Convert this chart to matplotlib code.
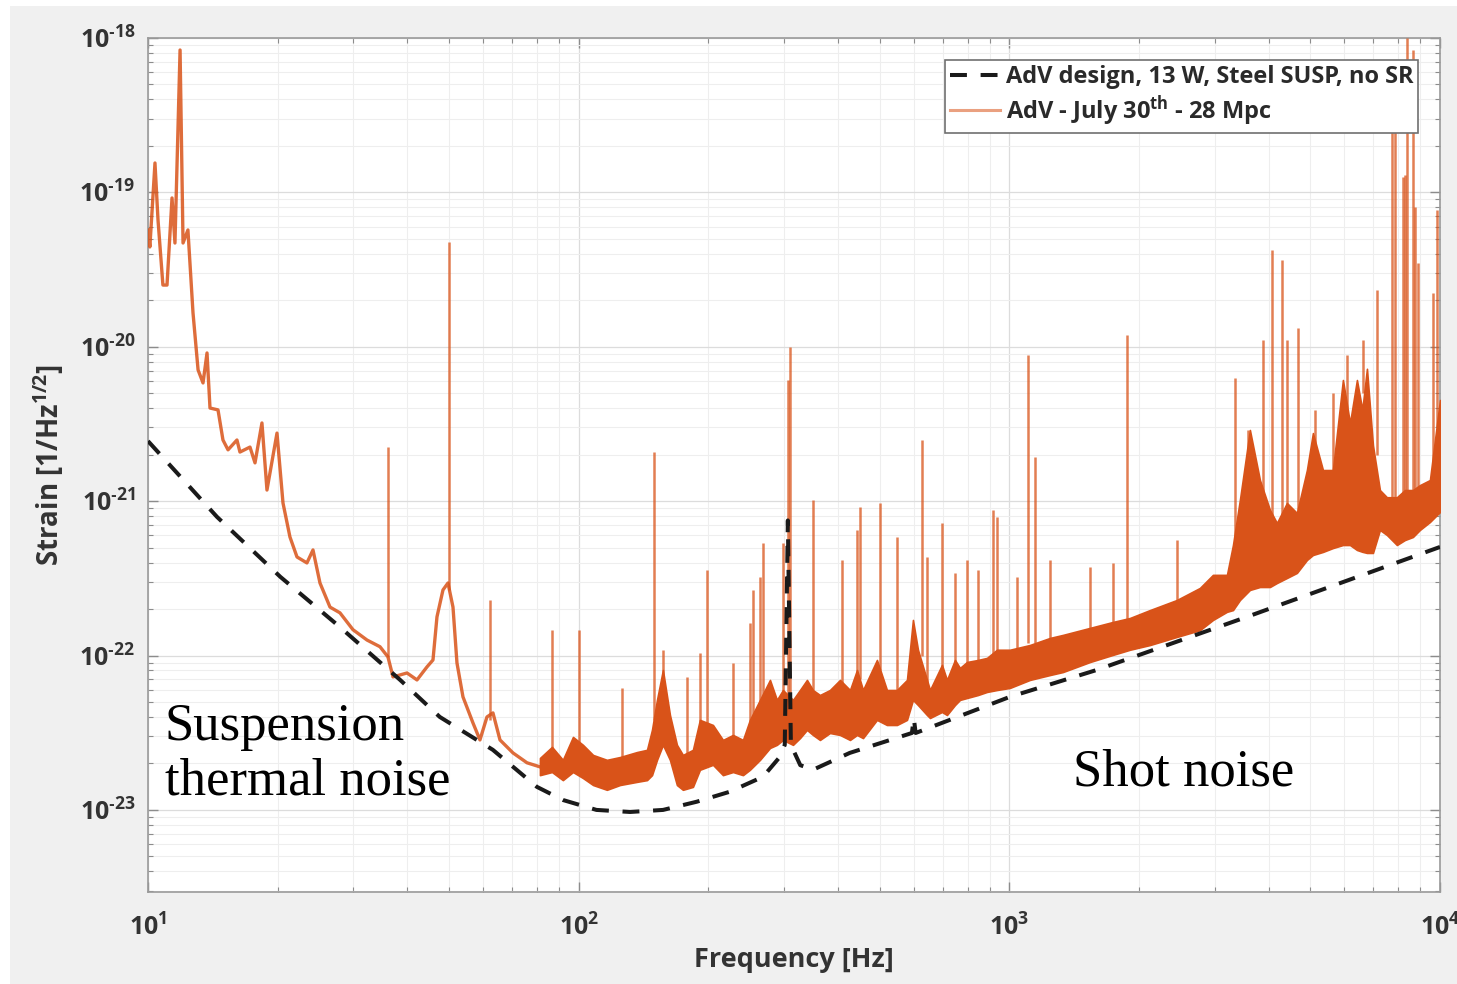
import numpy as np
import matplotlib.pyplot as plt
from matplotlib.lines import Line2D
from matplotlib.patches import Rectangle
from matplotlib.ticker import LogLocator, NullFormatter

plt.rcParams['font.family'] = 'Open Sans'
plt.rcParams['font.weight'] = 'bold'
plt.rcParams['axes.labelweight'] = 'bold'
plt.rcParams['mathtext.fontset'] = 'custom'
plt.rcParams['mathtext.rm'] = 'Open Sans:bold'
plt.rcParams['mathtext.it'] = 'Open Sans:bold'
plt.rcParams['mathtext.bf'] = 'Open Sans:bold'

# design sensitivity (dashed)
design_freq = [10, 14.46, 20.3, 27.9, 38.5, 47.6, 63.2, 80.0, 91.9, 110, 131.6, 157, 188,
               224, 268, 293, 301, 306, 311, 327, 350, 426, 594, 600, 606, 1003, 1597,
               3562, 10000]
design_strain = [2.45e-21, 7.91e-22, 3.23e-22, 1.53e-22, 6.95e-23, 4.0e-23, 2.45e-23,
                 1.41e-23, 1.16e-23, 1.0e-23, 9.7e-24, 1.0e-23, 1.13e-23, 1.31e-23,
                 1.64e-23, 2.2e-23, 2.64e-23, 7.5e-22, 2.64e-23, 1.95e-23, 1.82e-23,
                 2.34e-23, 3.15e-23, 3.94e-23, 3.15e-23, 5.4e-23, 8.07e-23, 1.78e-22,
                 5.05e-22]

# measured curve, low frequency part (single line)
low_freq = [10.0, 10.1, 10.38, 10.55, 10.83, 11.07, 11.37, 11.55, 11.87, 12.06, 12.38,
            12.72, 13.07, 13.42, 13.71, 13.93, 14.54, 14.93, 15.34, 16.09, 16.35, 17.25,
            17.72, 18.39, 18.89, 19.93, 20.58, 21.36, 22.18, 23.39, 24.16, 25.08, 26.46,
            27.91, 29.92, 32.25, 34.57, 36.07, 37.06, 39.94, 42.13, 44.44, 45.89, 46.88,
            48.41, 49.72, 51.07, 52.17, 53.87, 56.83, 58.99, 61.24, 63.24, 65.66, 70.39,
            75.86, 81.33]
low_strain = [5.71e-20, 4.43e-20, 1.55e-19, 6.62e-20, 2.51e-20, 2.51e-20, 9.2e-20, 4.7e-20,
              8.36e-19, 4.7e-20, 5.71e-20, 1.66e-20, 7.08e-21, 5.83e-21, 9.12e-21, 4.01e-21,
              3.9e-21, 2.49e-21, 2.15e-21, 2.49e-21, 2.08e-21, 2.24e-21, 1.77e-21, 3.21e-21,
              1.18e-21, 2.76e-21, 9.73e-22, 5.86e-22, 4.35e-22, 3.98e-22, 4.83e-22, 2.95e-22,
              2.06e-22, 1.89e-22, 1.47e-22, 1.26e-22, 1.14e-22, 9.8e-23, 7.27e-23, 7.71e-23,
              6.95e-23, 8.44e-23, 9.36e-23, 1.78e-22, 2.66e-22, 2.95e-22, 2.06e-22, 8.95e-23,
              5.4e-23, 3.66e-23, 2.84e-23, 4.0e-23, 4.25e-23, 2.84e-23, 2.34e-23, 2.02e-23,
              1.9e-23]

# measured curve above ~80 Hz: noise band (lower / upper envelope)
band_freq = [81.3, 86.7, 91.9, 97.0, 102.3, 108.0, 116.3, 124.7, 136.6, 144.1, 148.0, 152.0,
             156.9, 162.9, 169.1, 174.6, 184.2, 191.2, 205.0, 216.3, 228.2, 240.7, 249.8,
             263.6, 278.1, 288.6, 298.1, 314.5, 326.5, 338.9, 349.9, 363.3, 383.2, 404.4,
             426.6, 442.9, 457.3, 492.7, 519.7, 548.3, 578.5, 597.3, 613.5, 643.8, 654.2,
             697.5, 716.4, 747.7, 768.0, 797.3, 845.6, 887.2, 935.9, 1003, 1116, 1243, 1332,
             1539, 1740, 1905, 2121, 2449, 2770, 2970, 3201, 3306, 3431, 3619, 3818, 4028,
             4181, 4411, 4653, 4909, 5069, 5348, 5641, 5951, 6179, 6414, 6600, 6767, 6987,
             7252, 7528, 7942, 8287, 8651, 8981, 9476, 10000]
band_hi = [2.17e-23, 2.56e-23, 2.11e-23, 2.97e-23, 2.64e-23, 2.27e-23, 2.11e-23, 2.2e-23,
           2.37e-23, 2.45e-23, 3.3e-23, 5.16e-23, 8.06e-23, 4.12e-23, 2.64e-23, 2.27e-23,
           2.45e-23, 3.83e-23, 3.55e-23, 2.84e-23, 3.06e-23, 2.84e-23, 3.83e-23, 5.16e-23,
           6.95e-23, 5.16e-23, 5.98e-23, 5.16e-23, 5.98e-23, 6.95e-23, 5.98e-23, 5.55e-23,
           5.98e-23, 6.95e-23, 5.98e-23, 8.06e-23, 5.98e-23, 9.36e-23, 5.98e-23, 5.98e-23,
           6.95e-23, 1.7e-22, 1.09e-22, 6.95e-23, 5.98e-23, 8.69e-23, 6.95e-23, 9.36e-23,
           8.31e-23, 9.08e-23, 9.36e-23, 9.65e-23, 1.09e-22, 1.09e-22, 1.17e-22, 1.3e-22,
           1.36e-22, 1.51e-22, 1.65e-22, 1.75e-22, 1.97e-22, 2.29e-22, 2.74e-22, 3.33e-22,
           3.33e-22, 5.2e-22, 1.02e-21, 2.89e-21, 1.37e-21, 8.77e-22, 7.22e-22, 9.73e-22,
           8.38e-22, 1.59e-21, 2.76e-21, 1.59e-21, 1.59e-21, 6.09e-21, 3.2e-21, 6.09e-21,
           3.9e-21, 7.2e-21, 2.3e-21, 1.18e-21, 1.06e-21, 1.06e-21, 1.18e-21, 1.18e-21,
           1.27e-21, 1.37e-21, 4.52e-21]
band_lo = [1.68e-23, 1.76e-23, 1.56e-23, 1.76e-23, 1.61e-23, 1.45e-23, 1.35e-23, 1.45e-23,
           1.52e-23, 1.56e-23, 1.68e-23, 2.11e-23, 2.64e-23, 2.11e-23, 1.45e-23, 1.35e-23,
           1.41e-23, 1.82e-23, 1.96e-23, 1.68e-23, 1.76e-23, 1.68e-23, 1.82e-23, 2.11e-23,
           2.52e-23, 2.64e-23, 2.84e-23, 2.64e-23, 2.92e-23, 3.3e-23, 3.06e-23, 2.84e-23,
           3.15e-23, 3.06e-23, 2.84e-23, 3.06e-23, 2.92e-23, 3.83e-23, 3.55e-23, 3.55e-23,
           3.83e-23, 5.16e-23, 4.78e-23, 4.12e-23, 3.94e-23, 4.31e-23, 4.12e-23, 4.78e-23,
           5.16e-23, 5.31e-23, 5.55e-23, 5.81e-23, 5.98e-23, 6.17e-23, 6.95e-23, 7.48e-23,
           7.82e-23, 9.08e-23, 1.01e-22, 1.09e-22, 1.17e-22, 1.32e-22, 1.46e-22, 1.7e-22,
           1.92e-22, 1.97e-22, 2.29e-22, 2.66e-22, 2.78e-22, 2.78e-22, 2.95e-22, 3.18e-22,
           3.43e-22, 4.16e-22, 4.48e-22, 4.69e-22, 4.97e-22, 5.2e-22, 5.2e-22, 4.83e-22,
           4.7e-22, 4.62e-22, 4.62e-22, 6.51e-22, 6.04e-22, 5.2e-22, 5.6e-22, 5.86e-22,
           6.51e-22, 7.33e-22, 8.51e-22]

# narrow lines (frequency, bottom, top)
spike_freq = [36.1, 50.0, 62.3, 86.7, 100.0, 126.0, 149.6, 156.9, 178.4, 191.2, 198.6, 228.2,
              249.8, 254.0, 263.6, 267.9, 298.1, 306.2, 309.1, 349.9, 408.8, 442.9, 449.9,
              500.6, 548.3, 626.8, 643.8, 697.5, 747.7, 797.3, 845.6, 916, 935.9, 1041,
              1105, 1147, 1243, 1539, 1740, 1875, 2449, 3341, 3581, 3880, 4071, 4296, 4411,
              4677, 5123, 5641, 6079, 6622, 7137, 7733, 7858, 8203, 8290, 8379, 8651, 8744,
              8886, 9627, 9836]
spike_lo = [9.8e-23, 2.66e-22, 3.83e-23, 2.2e-23, 2.2e-23, 2.2e-23, 3.8e-23, 5e-23, 2.3e-23,
            3.5e-23, 3.5e-23, 3e-23, 3.5e-23, 3.5e-23, 5e-23, 5e-23, 5e-23, 5e-23, 5e-23,
            6e-23, 6e-23, 7e-23, 7e-23, 8e-23, 6e-23, 1e-22, 6e-23, 8e-23, 9e-23, 9e-23,
            9e-23, 1e-22, 1e-22, 1.1e-22, 1.2e-22, 1.2e-22, 1.3e-22, 1.5e-22, 1.6e-22,
            1.7e-22, 2.3e-22, 4e-22, 1e-21, 1e-21, 8e-22, 8e-22, 9e-22, 8e-22, 1.5e-21,
            1.5e-21, 4e-21, 5e-21, 2e-21, 1e-21, 1e-21, 1e-21, 1e-21, 1e-21, 1e-21, 1e-21,
            1e-21, 1.2e-21, 3e-21]
spike_hi = [2.24e-21, 4.77e-20, 2.29e-22, 1.46e-22, 1.46e-22, 6.17e-23, 2.08e-21, 1.09e-22,
            7.27e-23, 1.04e-22, 3.58e-22, 8.95e-23, 1.63e-22, 2.66e-22, 3.23e-22, 5.36e-22,
            5.36e-22, 6.09e-21, 9.98e-21, 1.02e-21, 4.16e-22, 6.51e-22, 9.17e-22, 9.73e-22,
            5.86e-22, 2.49e-21, 4.35e-22, 7.22e-22, 3.43e-22, 4.16e-22, 3.58e-22, 8.77e-22,
            7.9e-22, 3.23e-22, 8.85e-21, 1.93e-21, 4.16e-22, 3.75e-22, 3.98e-22, 1.19e-20,
            5.6e-22, 6.28e-21, 2.89e-21, 1.11e-20, 4.24e-20, 3.65e-20, 1.11e-20, 1.32e-20,
            3.9e-21, 5.02e-21, 8.85e-21, 1.11e-20, 2.33e-20, 2.65e-19, 2.62e-19, 1.26e-19,
            1.3e-19, 1.0e-18, 8.36e-19, 8.04e-20, 3.49e-20, 2.23e-20, 7.69e-20]

xtick_vals = [10, 100, 1000, 10000]
xtick_labels = [r'$\mathbf{10^{1}}$', r'$\mathbf{10^{2}}$', r'$\mathbf{10^{3}}$',
                r'$\mathbf{10^{4}}$']
ytick_vals = [1e-23, 1e-22, 1e-21, 1e-20, 1e-19, 1e-18]
ytick_labels = ['$\\mathbf{10^{\u2010' + e + '}}$' for e in ['23', '22', '21', '20', '19', '18']]

orange = '#D95319'
txt_color = '#333333'

fig = plt.figure(figsize=(14.57, 9.84), dpi=100, facecolor='white')
fig.patches.append(Rectangle((10 / 1457, 0), 1, 1 - 6 / 984, transform=fig.transFigure,
                             facecolor='#f0f0f0', edgecolor='none', zorder=-10))
ax = fig.add_axes([148 / 1457, 92 / 984, 1292 / 1457, 854 / 984])
ax.set_xscale('log')
ax.set_yscale('log')

ax.fill_between(band_freq, band_lo, band_hi, color=orange, lw=1.2, zorder=3)
ax.vlines(spike_freq, spike_lo, spike_hi, color=orange, lw=1.8, alpha=0.75, zorder=3)
ax.plot(low_freq, low_strain, color=orange, lw=2.4, alpha=0.85, zorder=3)
ax.plot(design_freq, design_strain, color='#1a1a1a', lw=2.9, dashes=(4.2, 3.4), zorder=4)

ax.set_xlim(10, 10000)
ax.set_ylim(2.94e-24, 1e-18)

ax.set_xticks(xtick_vals)
ax.set_xticklabels(xtick_labels)
ax.set_yticks(ytick_vals)
ax.set_yticklabels(ytick_labels)
ax.xaxis.set_minor_locator(LogLocator(base=10, subs=np.arange(2, 10), numticks=30))
ax.yaxis.set_minor_locator(LogLocator(base=10, subs=np.arange(2, 10), numticks=30))
ax.xaxis.set_minor_formatter(NullFormatter())
ax.yaxis.set_minor_formatter(NullFormatter())

ax.tick_params(which='both', direction='in', top=True, right=True, colors='#8c8c8c',
               labelcolor=txt_color, labelsize=18)
ax.tick_params(which='major', length=7, width=1, pad=16)
ax.tick_params(which='minor', length=3.5, width=0.8)
ax.tick_params(axis='y', which='major', pad=9)

ax.set_axisbelow(True)
ax.grid(which='major', color='#dcdcdc', lw=0.9)
ax.grid(which='minor', color='#eeeeee', lw=0.8)
for s in ax.spines.values():
    s.set_color('#9a9a9a')
    s.set_linewidth(1.2)

ax.set_xlabel('Frequency [Hz]', fontsize=19.5, fontweight='bold', color=txt_color)
ax.xaxis.set_label_coords(0.5, -0.064)
ax.set_ylabel(r'Strain [1/Hz$\mathbf{^{1/2}}$]', fontsize=20, fontweight='bold',
              color=txt_color)
ax.yaxis.set_label_coords(-0.0635, 0.5)

handles = [Line2D([], [], color='#1a1a1a', lw=2.9, dashes=(4.2, 3.4)),
           Line2D([], [], color=orange, lw=2.2, alpha=0.55)]
labels = ['AdV design, 13 W, Steel SUSP, no SR', r'AdV - July 30$\mathbf{^{th}}$ - 28 Mpc']
leg = ax.legend(handles, labels, loc='upper right', bbox_to_anchor=(0.983, 0.974),
                borderaxespad=0, prop={'family': 'Open Sans', 'weight': 'bold', 'size': 17},
                frameon=True, fancybox=False, framealpha=1, edgecolor='#707070',
                handlelength=2.1, handletextpad=0.25, borderpad=0.2, labelspacing=0.2)
leg.get_frame().set_linewidth(1.2)
for t in leg.get_texts():
    t.set_color('#2a2a2a')

ax.text(10.95, 2.84e-23, 'Suspension', family='Liberation Serif', fontweight='normal',
        fontsize=38, va='baseline', ha='left', zorder=5)
ax.text(10.95, 1.25e-23, 'thermal noise', family='Liberation Serif', fontweight='normal',
        fontsize=38, va='baseline', ha='left', zorder=5)
ax.text(1405, 1.43e-23, 'Shot noise', family='Liberation Serif', fontweight='normal',
        fontsize=38, va='baseline', ha='left', zorder=5)

fig.savefig('out.png', dpi=100, facecolor=fig.get_facecolor())
